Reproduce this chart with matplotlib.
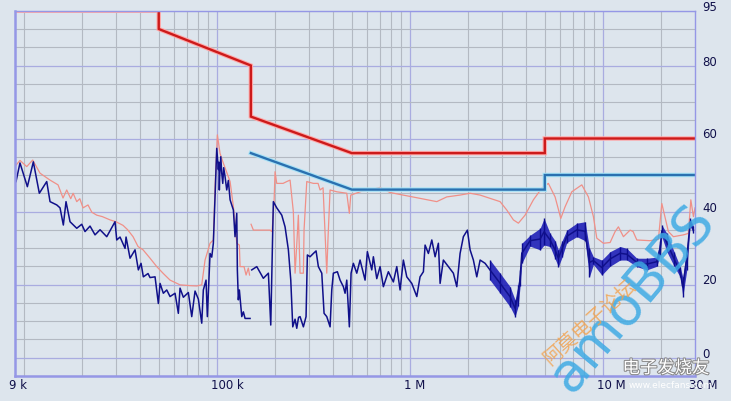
import numpy as np
import matplotlib
matplotlib.use("Agg")
import matplotlib.pyplot as plt
import matplotlib.transforms as mtransforms
import matplotlib.patheffects as pe

plt.rcParams['font.family'] = ['DejaVu Sans']

# limit lines (kHz, dBuV)
qp_limit_f = [9, 50, 50, 150, 150, 500, 500, 5000, 5000, 30000]
qp_limit_db = [95, 95, 90, 80, 66, 56, 56, 56, 60, 60]
av_limit_f = [150, 500, 5000, 5000, 30000]
av_limit_db = [56, 46, 46, 50, 50]

# peak trace, 9k..150k scan
peak_f1 = [9.11, 9.55, 10.35, 11.12, 12.13, 13.67, 15.04, 15.96, 16.68, 17.5, 18.0, 18.8,
           19.5, 20.27, 21.5, 22.5, 23.86, 25.5, 27.97, 30.0, 32.66, 34.5, 36.8, 39.06,
           41.46, 45.07, 48.82, 52.81, 57.21, 64.46, 72.0, 78.67, 83.5, 86.86, 92.2,
           95.9, 97.86, 100.6, 103.9, 108.1, 117.1, 121.8, 126.8, 130.8, 131.9, 138.3,
           141.7, 145.6, 147.7]
peak_db1 = [52.7, 54.0, 52.3, 54.1, 50.5, 48.6, 47.3, 43.7, 45.9, 43.5, 45.0, 42.7,
            43.5, 41.0, 41.8, 39.8, 39.0, 38.6, 37.7, 37.2, 36.2, 35.0, 33.1, 30.4,
            29.5, 27.2, 24.9, 23.0, 21.2, 19.9, 19.7, 19.6, 19.9, 26.7, 31.3,
            32.2, 46.8, 61.0, 55.9, 53.2, 48.2, 41.3, 31.3, 30.8, 24.9, 24.9,
            22.6, 24.5, 22.6]

# peak trace, 150k..30M scan
peak_f2 = [150.4, 154.6, 188.6, 193.2, 197.9, 200.2, 204.3, 220.3, 230.2, 239.5, 249.1,
           254.2, 258.8, 264.4, 269.8, 280.7, 283.0, 292.3, 316.2, 334.5, 342.5, 355.0,
           363.6, 371.0, 376.8, 386.0, 418.1, 471.0, 485.8, 494.0, 560, 622, 700.8,
           789.6, 922, 1129, 1378, 1553, 1820, 2051, 2311, 2603, 2933, 3177, 3438, 3649,
           3952, 4364, 4824, 5219, 5653, 6051, 6370, 6900, 7774, 8411, 8928, 9297,
           10060, 10897, 11566, 12031, 12771, 13833, 14338, 14984, 17561, 19389,
           20192, 20753, 21846, 23189, 26128, 27732, 28539, 29438, 30000]
peak_db2 = [36.5, 34.9, 34.9, 34.5, 42.7, 50.9, 47.7, 47.7, 48.2, 48.6, 39.9,
            23.1, 30.0, 39.0, 23.1, 23.1, 35.0, 48.2, 47.7, 47.7, 45.9, 46.5,
            34.0, 23.1, 33.0, 45.9, 45.4, 45.0, 39.5, 44.5, 45.5, 45.9, 46.6,
            45.2, 44.5, 43.6, 42.7, 44.0, 44.5, 45.0, 44.5, 43.6, 42.7, 40.4, 37.7, 36.8,
            39.0, 43.2, 46.4, 47.7, 44.0, 38.1, 41.3, 45.4, 47.3, 44.0, 38.6, 32.7,
            31.3, 31.5, 34.5, 35.8, 33.1, 34.9, 34.5, 32.2, 32.0, 32.4,
            42.2, 39.5, 34.5, 33.1, 33.6, 34.0, 43.2, 38.6, 41.0]

# average trace, 9k..150k scan
avg_f1 = [9.11, 9.55, 10.43, 11.20, 12.03, 13.14, 13.67, 14.81, 15.40, 16.02, 16.54,
          17.35, 18.80, 19.95, 20.75, 22.03, 23.38, 24.82, 26.89, 29.68, 30.29, 31.51,
          33.45, 33.85, 35.50, 37.68, 39.20, 40.48, 41.6, 44.0, 45.07, 47.84, 49.76,
          50.78, 52.81, 55.0, 57.21, 60.73, 63.17, 64.46, 67.05, 71.17, 74.11, 77.09,
          80.19, 83.5, 85.11, 87.9, 89.28, 92.2, 94.08, 95.9, 97.86, 99.87, 101.8,
          102.5, 103.0, 103.5, 104.8, 106.0, 107.3, 108.5, 110.3, 112.5, 114.7, 117.1,
          121.8, 124.2, 126.8, 127.7, 129.2, 130.8, 134.6, 137.2, 140.0, 148.6]
avg_db1 = [48.2, 53.3, 46.8, 53.6, 45.0, 48.2, 42.7, 41.8, 41.0, 36.3, 42.7,
           37.2, 35.4, 36.5, 34.5, 36.0, 33.6, 35.0, 33.1, 37.2, 32.2, 33.0,
           29.9, 33.0, 27.2, 29.5, 24.0, 25.8, 22.1, 23.0, 21.9, 22.1, 14.8,
           20.3, 17.6, 18.5, 16.7, 17.6, 12.1, 19.0, 16.5, 17.8, 11.2, 18.2,
           16.0, 9.4, 18.5, 21.2, 11.2, 28.5, 27.5, 31.3, 44.0, 57.3, 51.5,
           53.5, 45.9, 50.0, 55.0, 50.5, 47.7, 52.0, 49.5, 45.9, 48.5, 43.2,
           40.4, 33.1, 39.5, 24.0, 15.8, 18.5, 11.2, 12.5, 10.7, 10.7]

# average trace, 150k..2.5M scan
avg_f2 = [151.6, 161.0, 174.1, 184.9, 190.2, 196.2, 204.3, 216.9, 225.6, 234.7, 241.5,
          247.3, 254.2, 259.4, 265.0, 269.8, 280.7, 289.8, 294.4, 304.0, 316.2, 326.6,
          335.6, 349.6, 359.3, 371.0, 386.0, 393.8, 401.4, 421.1, 434.9, 452.3, 461.6,
          471.0, 485.8, 495.8, 509.6, 530.7, 552.0, 585.9, 602.2, 634.7, 646.9, 673.7,
          700.8, 728.9, 773.7, 821.3, 855.3, 889.6, 925.3, 963.6, 1023, 1086, 1129,
          1175, 1199, 1247, 1299, 1351, 1405, 1434, 1491, 1583, 1680, 1750, 1820,
          1893, 1986, 2051, 2133, 2221, 2311, 2453]
avg_db2 = [24.0, 24.9, 21.7, 23.1, 8.9, 42.7, 41.0, 39.0, 35.8, 29.5, 21.2,
           8.4, 10.5, 8.0, 11.0, 11.2, 8.4, 11.2, 28.1, 27.6, 28.5, 29.2,
           24.9, 23.1, 12.1, 11.2, 8.4, 18.5, 23.1, 23.5, 21.2, 19.4, 17.6,
           21.2, 8.4, 23.1, 25.8, 23.1, 26.7, 21.2, 29.0, 24.0, 27.6, 21.6,
           24.9, 19.4, 23.5, 20.7, 24.9, 18.5, 26.7, 22.1, 20.3, 16.7, 22.1,
           23.5, 30.8, 28.5, 32.2, 27.6, 31.3, 20.3, 26.7, 24.9, 23.1, 19.4, 28.5,
           33.1, 34.9, 29.5, 26.7, 22.1, 26.7, 25.8]

# dense part of the average trace (upper / lower edge)
band_f = [2603, 2933, 3305, 3508, 3636, 3724, 3800, 4195, 4727, 4958, 5326, 5653,
          5880, 6146, 6500, 7324, 8086, 8511, 8928, 9869, 10897, 12278, 13299,
          14984, 16883, 19022, 19787, 20192, 21433, 23383, 25118, 25940, 27210,
          28300, 29438]
band_hi = [26.7, 23.1, 19.4, 15.8, 20.0, 24.0, 31.3, 33.5, 35.4, 38.1, 34.0, 32.0,
           29.5, 32.0, 34.9, 36.8, 37.2, 30.0, 27.6, 26.7, 29.0, 30.4, 29.9,
           27.2, 27.2, 27.5, 32.0, 36.3, 34.0, 29.0, 24.9, 22.0, 30.4,
           38.1, 36.0]
band_lo = [21.2, 17.6, 13.9, 11.2, 14.0, 19.5, 25.8, 30.5, 29.5, 30.8, 30.4, 27.0,
           24.9, 27.5, 31.5, 33.1, 32.0, 22.1, 25.5, 22.6, 25.0, 26.7, 26.7,
           24.9, 24.0, 25.0, 28.0, 33.1, 29.0, 25.0, 22.1, 16.7, 24.0,
           36.0, 34.0]

x_label_f = [9, 100, 1000, 10000, 30000]
x_labels = ["9 k", "100 k", "1 M", "10 M", "30 M"]
y_label_v = [0, 20, 40, 60, 80, 95]

bg = "#dde5ed"
fig = plt.figure(figsize=(7.31, 4.01), dpi=100, facecolor=bg)
ax = fig.add_axes([15 / 731, 1 - 375.75 / 401, 680 / 731, 365 / 401])
ax.set_facecolor(bg)
ax.set_xscale("log")
ax.set_xlim(9, 30000)
ax.set_ylim(-5, 95)

# grid
major_f = [100, 1000, 10000]
minor_f = [m * d for d in (10, 100, 1000, 10000) for m in range(1, 10)]
minor_f = [f for f in minor_f if 9 < f < 30000 and f not in major_f]
ax.set_xticks(major_f)
ax.set_xticks(minor_f, minor=True)
ax.set_yticks(np.arange(0, 81, 20))
ax.set_yticks(np.arange(-5, 96, 5), minor=True)
ax.grid(which="minor", color="#b3b9c2", lw=0.8)
ax.grid(which="major", color="#a9ace0", lw=0.9)
ax.tick_params(which="both", length=0, labelbottom=False, labelleft=False)
ax.set_axisbelow(True)
for s in ax.spines.values():
    s.set_color("#9597e6")
ax.spines["left"].set_linewidth(1.8)
ax.spines["bottom"].set_linewidth(1.8)
ax.spines["top"].set_linewidth(1.0)
ax.spines["right"].set_linewidth(1.0)

# traces
ax.plot(peak_f1, peak_db1, color="#f09088", lw=0.9)
ax.plot(peak_f2, peak_db2, color="#f09088", lw=0.9)

band_mid = (np.array(band_hi) + np.array(band_lo)) / 2
ax.fill_between(band_f, band_lo, band_hi, color="#1414b4", alpha=0.85, lw=0)
ax.vlines(band_f, band_lo, band_hi, color="#0c0c90", lw=1.0)
ax.plot(avg_f1, avg_db1, color="#10108a", lw=1.1)
ax.plot(list(avg_f2) + band_f, list(avg_db2) + list(band_mid), color="#10108a", lw=1.1)

# limits
ax.plot(qp_limit_f, qp_limit_db, color="#ffa8a8", lw=3.2, solid_joinstyle="miter")
ax.plot(qp_limit_f, qp_limit_db, color="#cc1a1a", lw=1.7, solid_joinstyle="miter")
ax.plot(av_limit_f, av_limit_db, color="#a6e2f6", lw=3.2, solid_joinstyle="miter")
ax.plot(av_limit_f, av_limit_db, color="#2a70b0", lw=1.7, solid_joinstyle="miter")

# axis labels
lab_kw = dict(fontsize=9.4, color="#10104a", fontstretch="condensed")
xoff = mtransforms.ScaledTranslation(-6 / 100, -3 / 100, fig.dpi_scale_trans)
xtr = mtransforms.blended_transform_factory(ax.transData, ax.transAxes) + xoff
for f, lab in zip(x_label_f, x_labels):
    ax.text(f, 0, lab, transform=xtr, ha="left", va="top", **lab_kw)
yoff = mtransforms.ScaledTranslation(7 / 100, 0, fig.dpi_scale_trans)
ytr = mtransforms.blended_transform_factory(ax.transAxes, ax.transData) + yoff
for v in y_label_v:
    ax.text(1, v, str(v), transform=ytr, ha="left", va="baseline", **lab_kw)

# watermarks
fig.text(632 / 731, 1 - 298 / 401, "amoBBS", rotation=50, ha="center", va="center",
         fontsize=39, color="#3eaae4", alpha=0.85, family=["DejaVu Sans"], rotation_mode="anchor")
fig.text(590 / 731, 1 - 322 / 401, "阿莫电子论坛", rotation=42, ha="center", va="center",
         fontsize=14, color="#f3a04a", alpha=0.8, family=["Noto Sans CJK SC", "DejaVu Sans"],
         rotation_mode="anchor")
fig.text(666 / 731, 1 - 368 / 401, "电子发烧友", ha="center", va="center", fontsize=12.5,
         color="white", family=["Noto Sans CJK SC", "DejaVu Sans"],
         path_effects=[pe.withStroke(linewidth=1.5, foreground="#8a8a8a")])
fig.text(671 / 731, 1 - 386 / 401, "www.elecfans.com", ha="center", va="center", fontsize=6.5,
         color="white", family=["DejaVu Sans"])

fig.savefig("out.png", dpi=100, facecolor=bg)
